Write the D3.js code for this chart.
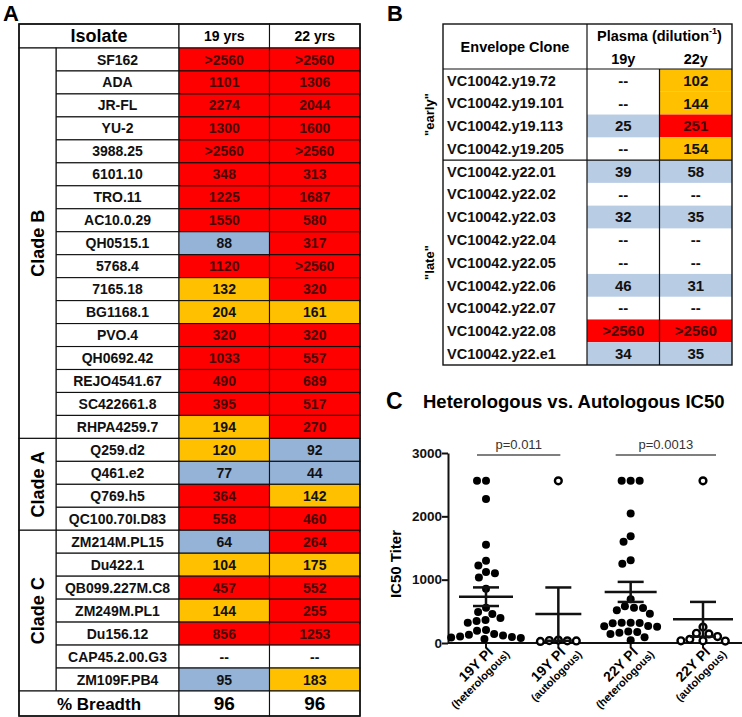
<!DOCTYPE html>
<html>
<head>
<meta charset="utf-8">
<script src="https://cdn.jsdelivr.net/npm/d3@7/dist/d3.min.js"></script>
<style>
  body { margin: 0; background: #fff; }
  svg { display: block; font-family: "Liberation Sans", Arial, sans-serif; }
</style>
</head>
<body>
<script>
// ---------------- DATA ----------------
// Panel A
const isolates = ["SF162","ADA","JR-FL","YU-2","3988.25","6101.10","TRO.11","AC10.0.29","QH0515.1","5768.4",
  "7165.18","BG1168.1","PVO.4","QH0692.42","REJO4541.67","SC422661.8","RHPA4259.7",
  "Q259.d2","Q461.e2","Q769.h5","QC100.70I.D83",
  "ZM214M.PL15","Du422.1","QB099.227M.C8","ZM249M.PL1","Du156.12","CAP45.2.00.G3","ZM109F.PB4"];
const cladeNames = ["Clade B","Clade A","Clade C"];
const cladeSizes = [17, 4, 7];
const yearCols = ["19 yrs","22 yrs"];
const titers19 = [">2560","1101","2274","1300",">2560","348","1225","1550","88","1120",
  "132","204","320","1033","490","395","194",
  "120","77","364","558",
  "64","104","457","144","856","--","95"];
const titers22 = [">2560","1306","2044","1600",">2560","313","1687","580","317",">2560",
  "320","161","320","557","689","517","270",
  "92","44","142","460",
  "264","175","552","255","1253","--","183"];
const breadth = ["96","96"];

// Panel B
const clones = ["VC10042.y19.72","VC10042.y19.101","VC10042.y19.113","VC10042.y19.205",
  "VC10042.y22.01","VC10042.y22.02","VC10042.y22.03","VC10042.y22.04","VC10042.y22.05",
  "VC10042.y22.06","VC10042.y22.07","VC10042.y22.08","VC10042.y22.e1"];
const cloneGroups = ['"early"','"late"'];
const cloneGroupSizes = [4, 9];
const plasmaCols = ["19y","22y"];
const plasma19 = ["--","--","25","--","39","--","32","--","--","46","--",">2560","34"];
const plasma22 = ["102","144","251","154","58","--","35","--","--","31","--",">2560","35"];

// Panel C
const groupMain = ["19Y PI","19Y PI","22Y PI","22Y PI"];
const groupSub = ["(heterologous)","(autologous)","(heterologous)","(autologous)"];
const yTicks = [0, 1000, 2000, 3000];
const pValues = ["p=0.011","p=0.0013"];

// ---------------- HELPERS ----------------
const FONT = '"Liberation Sans", Arial, sans-serif';
const parseTiter = s => s === "--" ? null : +s.replace(">", "");
const colorA = d3.scaleThreshold().domain([100, 250]).range(["#95B3D7", "#FFC000", "#FF0000"]);
const colorB = d3.scaleThreshold().domain([100, 250]).range(["#B8CCE4", "#FFC000", "#FF0000"]);
const textColor = v => (v !== null && v >= 250) ? "#4a0606" : "#111";

const svg = d3.select("body").append("svg").attr("width", 742).attr("height", 717);

// ---------------- PANEL A ----------------
(function panelA() {
  const g = svg.append("g");
  const xClade = [19, 56], xIso = [56, 179];
  const xCol = d3.scaleBand().domain(yearCols).range([179, 360]);
  const yRow = d3.scaleBand().domain(d3.range(isolates.length)).range([48, 691]);
  const headTop = 24, headBot = 48, brTop = 691, brBot = 716;

  g.append("text").attr("x", 3).attr("y", 21).attr("font-size", 22).attr("font-weight", "bold").text("A");

  const cellStroke = c => c.attr("stroke", "#111").attr("stroke-width", 1.1);

  // header
  cellStroke(g.append("rect").attr("x", xClade[0]).attr("y", headTop).attr("width", xIso[1] - xClade[0]).attr("height", headBot - headTop).attr("fill", "#fff"));
  g.append("text").attr("x", (xClade[0] + xIso[1]) / 2).attr("y", (headTop + headBot) / 2).attr("dy", "0.36em")
    .attr("text-anchor", "middle").attr("font-size", 18).attr("font-weight", "bold").text("Isolate");
  yearCols.forEach(c => {
    cellStroke(g.append("rect").attr("x", xCol(c)).attr("y", headTop).attr("width", xCol.bandwidth()).attr("height", headBot - headTop).attr("fill", "#fff"));
    g.append("text").attr("x", xCol(c) + xCol.bandwidth() / 2).attr("y", (headTop + headBot) / 2).attr("dy", "0.36em")
      .attr("text-anchor", "middle").attr("font-size", 14).attr("font-weight", "bold").text(c);
  });

  // rows
  const cols = [titers19, titers22];
  isolates.forEach((name, i) => {
    const y0 = yRow(i), h = yRow.bandwidth();
    cellStroke(g.append("rect").attr("x", xIso[0]).attr("y", y0).attr("width", xIso[1] - xIso[0]).attr("height", h).attr("fill", "#fff"));
    g.append("text").attr("x", (xIso[0] + xIso[1]) / 2).attr("y", y0 + h / 2).attr("dy", "0.36em")
      .attr("text-anchor", "middle").attr("font-size", 14).attr("font-weight", "bold").attr("fill", "#111").text(name);
    yearCols.forEach((c, j) => {
      const s = cols[j][i], v = parseTiter(s);
      cellStroke(g.append("rect").attr("x", xCol(c)).attr("y", y0).attr("width", xCol.bandwidth()).attr("height", h)
        .attr("fill", v === null ? "#fff" : colorA(v)));
      g.append("text").attr("x", xCol(c) + xCol.bandwidth() / 2).attr("y", y0 + h / 2).attr("dy", "0.36em")
        .attr("text-anchor", "middle").attr("font-size", 14).attr("font-weight", "bold").attr("fill", textColor(v)).text(s);
    });
  });

  // clades
  let start = 0;
  cladeNames.forEach((cn, k) => {
    const y0 = yRow(start), y1 = yRow(start + cladeSizes[k] - 1) + yRow.bandwidth();
    cellStroke(g.append("rect").attr("x", xClade[0]).attr("y", y0).attr("width", xClade[1] - xClade[0]).attr("height", y1 - y0).attr("fill", "#fff"));
    const cx = (xClade[0] + xClade[1]) / 2, cy = (y0 + y1) / 2;
    g.append("text").attr("transform", `translate(${cx},${cy}) rotate(-90)`).attr("dy", "0.36em")
      .attr("text-anchor", "middle").attr("font-size", 18).attr("font-weight", "bold").text(cn);
    start += cladeSizes[k];
  });

  // breadth row
  cellStroke(g.append("rect").attr("x", xClade[0]).attr("y", brTop).attr("width", xIso[1] - xClade[0]).attr("height", brBot - brTop).attr("fill", "#fff"));
  g.append("text").attr("x", (xClade[0] + xIso[1]) / 2).attr("y", (brTop + brBot) / 2).attr("dy", "0.36em")
    .attr("text-anchor", "middle").attr("font-size", 17).attr("font-weight", "bold").text("% Breadth");
  yearCols.forEach((c, j) => {
    cellStroke(g.append("rect").attr("x", xCol(c)).attr("y", brTop).attr("width", xCol.bandwidth()).attr("height", brBot - brTop).attr("fill", "#fff"));
    g.append("text").attr("x", xCol(c) + xCol.bandwidth() / 2).attr("y", (brTop + brBot) / 2).attr("dy", "0.36em")
      .attr("text-anchor", "middle").attr("font-size", 19).attr("font-weight", "bold").text(breadth[j]);
  });

  g.append("rect").attr("x", xClade[0]).attr("y", headTop).attr("width", 360 - xClade[0]).attr("height", brBot - headTop)
    .attr("fill", "none").attr("stroke", "#111").attr("stroke-width", 1.6);
})();

// ---------------- PANEL B ----------------
(function panelB() {
  const g = svg.append("g");
  const xL = 443, xSplit = 587, xR = 732;
  const xCol = d3.scaleBand().domain(plasmaCols).range([xSplit, xR]);
  const top = 24, headBot = 69;
  const yRow = d3.scaleBand().domain(d3.range(clones.length)).range([headBot, 365]);

  g.append("text").attr("x", 387).attr("y", 21).attr("font-size", 22).attr("font-weight", "bold").text("B");

  const cols = [plasma19, plasma22];
  clones.forEach((name, i) => {
    const y0 = yRow(i), h = yRow.bandwidth();
    g.append("text").attr("x", xL + 4).attr("y", y0 + h / 2).attr("dy", "0.36em")
      .attr("font-size", 14.5).attr("font-weight", "bold").attr("fill", "#111").text(name);
    plasmaCols.forEach((c, j) => {
      const s = cols[j][i], v = parseTiter(s);
      if (v !== null) g.append("rect").attr("x", xCol(c)).attr("y", y0).attr("width", xCol.bandwidth()).attr("height", h).attr("fill", colorB(v));
      g.append("text").attr("x", xCol(c) + xCol.bandwidth() / 2).attr("y", y0 + h / 2).attr("dy", "0.36em")
        .attr("text-anchor", "middle").attr("font-size", 15).attr("font-weight", "bold").attr("fill", textColor(v)).text(s);
    });
  });

  // header texts
  g.append("text").attr("x", (xL + xSplit) / 2).attr("y", 47).attr("dy", "0.36em").attr("text-anchor", "middle")
    .attr("font-size", 14.5).attr("font-weight", "bold").text("Envelope Clone");
  const pt = g.append("text").attr("x", (xSplit + xR) / 2).attr("y", 41).attr("text-anchor", "middle")
    .attr("font-size", 14.5).attr("font-weight", "bold");
  pt.append("tspan").text("Plasma (dilution");
  pt.append("tspan").attr("font-size", 9).attr("dy", -7).text("-1");
  pt.append("tspan").attr("dy", 7).text(")");
  plasmaCols.forEach(c => {
    g.append("text").attr("x", xCol(c) + xCol.bandwidth() / 2).attr("y", 59).attr("dy", "0.36em").attr("text-anchor", "middle")
      .attr("font-size", 14.5).attr("font-weight", "bold").text(c);
  });

  // lines
  const line = (x1, y1, x2, y2, w) => g.append("line").attr("x1", x1).attr("y1", y1).attr("x2", x2).attr("y2", y2)
    .attr("stroke", "#111").attr("stroke-width", w || 1.2);
  line(xSplit, top, xSplit, 365);
  line(xCol(plasmaCols[1]), headBot, xCol(plasmaCols[1]), 365);
  line(xL, headBot, xR, headBot);
  let start = 0;
  cloneGroups.forEach((gn, k) => {
    const y0 = yRow(start), y1 = yRow(start + cloneGroupSizes[k] - 1) + yRow.bandwidth();
    if (k > 0) line(xL, y0, xR, y0);
    g.append("text").attr("transform", `translate(429,${(y0 + y1) / 2}) rotate(-90)`).attr("dy", "0.36em")
      .attr("text-anchor", "middle").attr("font-size", 13).attr("font-weight", "bold").text(gn);
    start += cloneGroupSizes[k];
  });
  g.append("rect").attr("x", xL).attr("y", top).attr("width", xR - xL).attr("height", 365 - top)
    .attr("fill", "none").attr("stroke", "#111").attr("stroke-width", 1.4);
})();

// ---------------- PANEL C ----------------
(function panelC() {
  const g = svg.append("g");
  g.append("text").attr("x", 386).attr("y", 409).attr("font-size", 23).attr("font-weight", "bold").text("C");
  g.append("text").attr("x", 423).attr("y", 408).attr("font-size", 18.5).attr("font-weight", "bold").text("Heterologous vs. Autologous IC50");

  const groups = d3.range(4);
  const x = d3.scalePoint().domain(groups).range([486, 703]);
  const y = d3.scaleLinear().domain([0, 3000]).range([643, 453]);
  const x0 = 448, xEnd = 742;

  const values = [
    titers19.map(parseTiter).filter(v => v !== null),
    plasma19.map(parseTiter).filter(v => v !== null),
    titers22.map(parseTiter).filter(v => v !== null),
    plasma22.map(parseTiter).filter(v => v !== null)
  ];
  const filled = [true, false, true, false];
  const meanHalf = [27, 23, 26, 30], capHalf = 13, r = 4;

  // axes
  const ya = g.append("g").attr("transform", `translate(${x0},0)`)
    .call(d3.axisLeft(y).tickValues(yTicks).tickSize(6).tickSizeOuter(0).tickFormat(d3.format("d")));
  ya.select(".domain").attr("stroke", "#111").attr("stroke-width", 2);
  ya.selectAll(".tick line").attr("stroke", "#111").attr("stroke-width", 2);
  ya.selectAll(".tick text").attr("font-family", FONT).attr("font-size", 13.5).attr("font-weight", "bold").attr("fill", "#111").attr("x", -6);

  g.append("line").attr("x1", x0).attr("x2", xEnd).attr("y1", y(0)).attr("y2", y(0)).attr("stroke", "#111").attr("stroke-width", 2);
  groups.forEach(k => g.append("line").attr("x1", x(k)).attr("x2", x(k)).attr("y1", y(0)).attr("y2", y(0) + 5)
    .attr("stroke", "#111").attr("stroke-width", 2));

  g.append("text").attr("transform", `translate(396,564) rotate(-90)`).attr("dy", "0.36em").attr("text-anchor", "middle")
    .attr("font-size", 15).attr("font-weight", "bold").text("IC50 Titer");

  // beeswarm (deterministic)
  function swarm(vals, cx) {
    const D = 2 * r + 1;
    const pts = vals.map(v => ({ v, y: y(v) })).sort((a, b) => b.v - a.v);
    const placed = [];
    pts.forEach(p => {
      const ivs = [];
      placed.forEach(q => {
        const dy = Math.abs(q.y - p.y);
        if (dy < D) { const dx = Math.sqrt(D * D - dy * dy); ivs.push([q.x - dx, q.x + dx]); }
      });
      const cands = [cx].concat(...ivs).sort((a, b) => Math.abs(a - cx) - Math.abs(b - cx));
      for (const c of cands) {
        if (ivs.every(([a, b]) => c <= a + 1e-6 || c >= b - 1e-6)) { p.x = c; break; }
      }
      placed.push(p);
    });
    return placed;
  }

  groups.forEach(k => {
    const vals = values[k], cx = x(k);
    const m = d3.mean(vals), sem = d3.deviation(vals) / Math.sqrt(vals.length);
    const pts = swarm(vals, cx);
    g.append("g").selectAll("circle").data(pts).join("circle")
      .attr("cx", d => d.x).attr("cy", d => d.y).attr("r", filled[k] ? r : r - 0.6)
      .attr("fill", filled[k] ? "#000" : "#fff").attr("stroke", "#000").attr("stroke-width", filled[k] ? 0 : 2.4);
    const lw = 2.5;
    const eg = g.append("g").attr("stroke", "#111").attr("stroke-width", lw);
    const lo = Math.max(0, m - sem), hi = m + sem;
    eg.append("line").attr("x1", cx - meanHalf[k]).attr("x2", cx + meanHalf[k]).attr("y1", y(m)).attr("y2", y(m));
    eg.append("line").attr("x1", cx).attr("x2", cx).attr("y1", y(hi)).attr("y2", y(lo));
    eg.append("line").attr("x1", cx - capHalf).attr("x2", cx + capHalf).attr("y1", y(hi)).attr("y2", y(hi));
    eg.append("line").attr("x1", cx - capHalf).attr("x2", cx + capHalf).attr("y1", y(lo)).attr("y2", y(lo));

    // x labels
    const lg = g.append("g").attr("transform", `translate(${cx + 8},${y(0) + 10}) rotate(-45)`);
    lg.append("text").attr("text-anchor", "end").attr("font-size", 14).attr("font-weight", "bold").text(groupMain[k]);
    lg.append("text").attr("text-anchor", "end").attr("x", 10).attr("y", 13).attr("font-size", 11).attr("font-weight", "bold").text(groupSub[k]);
  });

  // p-values
  const pPad = [[9, 2], [15, 13]];
  pValues.forEach((p, i) => {
    const xa = x(2 * i) - pPad[i][0], xb = x(2 * i + 1) + pPad[i][1];
    g.append("line").attr("x1", xa).attr("x2", xb).attr("y1", 455).attr("y2", 455).attr("stroke", "#555").attr("stroke-width", 1.4);
    g.append("text").attr("x", (xa + xb) / 2).attr("y", 449).attr("text-anchor", "middle").attr("font-size", 13)
      .attr("fill", "#333").text(p);
  });
})();
</script>
</body>
</html>
